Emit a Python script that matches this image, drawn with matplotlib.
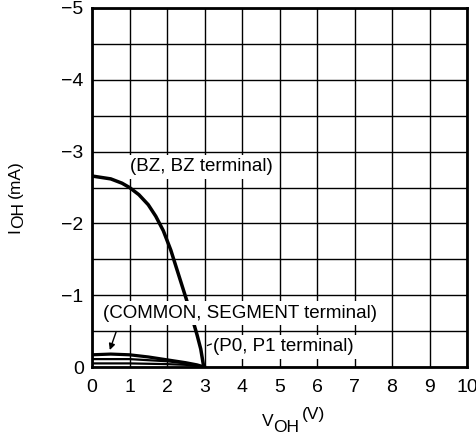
import numpy as np
import matplotlib
matplotlib.use("Agg")
import matplotlib.pyplot as plt

plt.rcParams['font.family'] = ['Liberation Sans', 'DejaVu Sans']

# Output current characteristics, I_OH (mA) versus V_OH (V)
bz_v = [0.0, 0.5, 0.8, 1.0, 1.25, 1.5, 1.7, 1.9, 2.1, 2.3, 2.5, 2.65, 2.8, 2.9, 2.98]
bz_i = [-2.66, -2.62, -2.56, -2.5, -2.4, -2.26, -2.1, -1.9, -1.63, -1.3, -0.97,
        -0.72, -0.45, -0.25, 0.0]

com_v = [0.0, 0.5, 1.0, 1.5, 2.0, 2.5, 2.8, 3.0]
com_i = [-0.17, -0.18, -0.17, -0.14, -0.1, -0.06, -0.03, 0.0]

p0_v = [0.0, 1.0, 2.0, 2.5, 3.0]
p0_i = [-0.11, -0.11, -0.08, -0.05, 0.0]

p1_v = [0.0, 1.0, 2.0, 2.5, 3.0]
p1_i = [-0.05, -0.05, -0.04, -0.03, 0.0]

x_ticks = [0, 1, 2, 3, 4, 5, 6, 7, 8, 9, 10]
y_ticks = [0, -1, -2, -3, -4, -5]

W, H = 477, 437
fig = plt.figure(figsize=(W / 100, H / 100), dpi=100)
ax = fig.add_axes([92 / W, 1 - 367 / H, 375 / W, 359 / H])

ax.set_xlim(0, 10)
ax.set_ylim(0, -5)
ax.set_xticks(x_ticks)
ax.set_yticks(y_ticks)
ax.set_yticks(np.arange(0, -5.01, -0.5), minor=True)
ax.grid(True, which='both', color='black', linewidth=1.0, zorder=0)
ax.tick_params(which='both', length=0, labelsize=14)
ax.tick_params(axis='x', pad=9)
ax.tick_params(axis='y', pad=6)
for s in ax.spines.values():
    s.set_linewidth(2.0)

ax.plot(bz_v, bz_i, color='black', linewidth=2.5, zorder=3,
        solid_joinstyle='round')
ax.plot(com_v, com_i, color='black', linewidth=2.3, zorder=3)
ax.plot(p0_v, p0_i, color='black', linewidth=1.6, zorder=3)
ax.plot(p1_v, p1_i, color='black', linewidth=1.6, zorder=3)

box = dict(facecolor='white', edgecolor='none', pad=2.5)
ax.text(1.0, -2.79, "(BZ, BZ terminal)", fontsize=13.5, va='center', ha='left',
        bbox=box, zorder=5)
ax.text(0.3, -0.75, "(COMMON, SEGMENT terminal)", fontsize=13.5, va='center',
        ha='left', bbox=box, zorder=5)
ax.text(3.23, -0.28, "(P0, P1 terminal)", fontsize=13.5, va='center', ha='left',
        bbox=box, zorder=5)

ax.annotate("", xy=(0.45, -0.2), xytext=(0.67, -0.53),
            arrowprops=dict(arrowstyle='-|>', color='black', lw=1.0,
                            mutation_scale=9), zorder=6)
ax.plot([3.08, 3.18], [-0.3, -0.32], color='black', linewidth=0.9, zorder=6)

# Axis titles built from pieces so the "OH" subscript stays full size
renderer = fig.canvas.get_renderer()
label_fs = 12.5


def place_pieces(pieces, x0, y0, vertical=False):
    """Place (text, offset, gap) pieces one after another, in pixel units."""
    pos = x0 if not vertical else y0
    for txt, off, gap in pieces:
        if vertical:
            t = fig.text((x0 + off) / W, 1 - pos / H, txt, fontsize=label_fs,
                         rotation=90, rotation_mode='anchor',
                         ha='left', va='baseline')
            bb = t.get_window_extent(renderer)
            pos = H - bb.y1 - gap
        else:
            t = fig.text(pos / W, 1 - (y0 + off) / H, txt, fontsize=label_fs,
                         ha='left', va='baseline')
            bb = t.get_window_extent(renderer)
            pos = bb.x1 + gap


place_pieces([("V", 0, 0), ("OH", 6, 2), ("(V)", -7, 0)], 262, 426)
place_pieces([("I", 0, 0), ("OH", 4, 4), ("(mA)", 1, 0)], 19, 233,
             vertical=True)

fig.savefig("out.png", dpi=100)
